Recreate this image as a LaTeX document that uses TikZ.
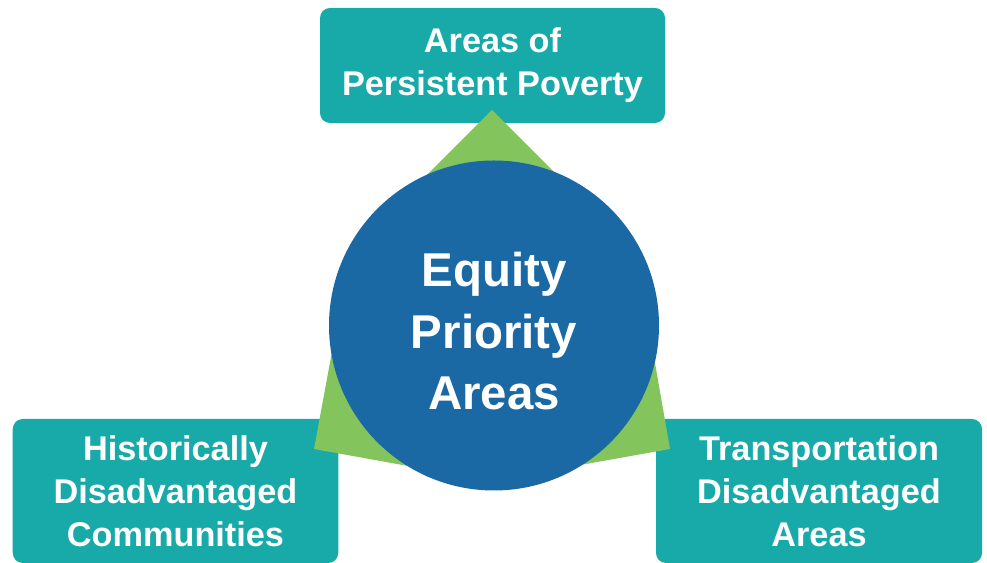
\documentclass[tikz,border=0pt]{standalone}
\usepackage{fontspec}
\setmainfont{Liberation Sans}

\definecolor{boxteal}{RGB}{23,170,168}
\definecolor{stargreen}{RGB}{132,196,92}
\definecolor{hubblue}{RGB}{26,104,164}

\tikzset{
    areabox/.style={fill=boxteal, rounded corners=0.2cm, text=white, align=center,
        inner sep=0pt, font=\bfseries\fontsize{19.5}{24.5}\selectfont},
    hub/.style={circle, fill=hubblue, minimum size=6.6cm, inner sep=0pt},
    hubtext/.style={text=white, align=center, inner sep=0pt,
        font=\bfseries\fontsize{27}{35}\selectfont}
}

\begin{document}
\begin{tikzpicture}
    \useasboundingbox (0,0) rectangle (19.74,11.26);
    % the three boxes
    \node[areabox, minimum width=6.9cm, minimum height=2.3cm] (poverty) at (9.85,9.95) {Areas of\\Persistent Poverty};
    \node[areabox, minimum width=6.51cm, minimum height=2.88cm] (historic) at (3.51,1.44) {Historically\\Disadvantaged\\Communities};
    \node[areabox, minimum width=6.52cm, minimum height=2.88cm] (transport) at (16.38,1.44) {Transportation\\Disadvantaged\\Areas};
    % green star behind the circle
    \coordinate (tipT) at (9.84,9.06);
    \coordinate (tipL) at (6.28,2.28);
    \coordinate (tipR) at (13.40,2.28);
    \coordinate (innerL) at (7.01,6.23);
    \coordinate (innerR) at (12.72,6.18);
    \coordinate (innerB) at (9.82,1.64);
    \fill[stargreen] (tipT) -- (innerR) -- (tipR) -- (innerB) -- (tipL) -- (innerL) -- cycle;
    % centre circle
    \node[hub] (equity) at (9.88,4.75) {};
    \node[hubtext] (equitytext) at ([yshift=-0.12cm]equity.center) {Equity\\Priority\\Areas};
\end{tikzpicture}
\end{document}
